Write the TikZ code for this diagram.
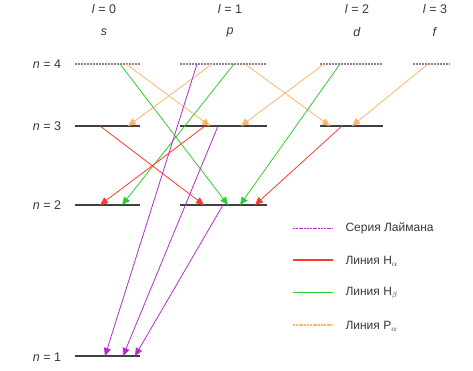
\documentclass[tikz,border=0pt]{standalone}
\usepackage{fontspec}
\setmainfont{Liberation Sans}
\usetikzlibrary{positioning, arrows.meta}

\definecolor{lyman}{RGB}{180,45,200}
\definecolor{halpha}{RGB}{250,60,40}
\definecolor{hbeta}{RGB}{50,205,50}
\definecolor{palpha}{RGB}{255,180,110}
\definecolor{txt}{RGB}{55,55,55}

\begin{document}
\begin{tikzpicture}[x=1pt, y=-1pt,
    lvl/.style={line width=1.1pt, black!75},
    lvltop/.style={line width=1.3pt, color={rgb,255:red,150;green,125;blue,150}, dash pattern=on 2pt off 1pt},
    trans/.style={line width=0.8pt, -{Triangle[length=8pt, width=7pt]}},
    lab/.style={font=\fontsize{12.5}{14}\selectfont, text=txt},
    leg/.style={font=\fontsize{12}{14}\selectfont, text=txt, anchor=west}]
    \useasboundingbox (0,0) rectangle (473,371);

    % top labels
    \node[lab] (l0) at (104,9) {\textit{l} = 0};
    \node[lab] (l1) at (230,9) {\textit{l} = 1};
    \node[lab] (l2) at (357,9) {\textit{l} = 2};
    \node[lab] (l3) at (435,9) {\textit{l} = 3};
    \node[lab] (ts) at (104,32) {\textit{s}};
    \node[lab] (tp) at (230,32) {\textit{p}};
    \node[lab] (td) at (357,32) {\textit{d}};
    \node[lab] (tf) at (435,32) {\textit{f}};

    \node[lab] (n4) at (47,64) {\textit{n} = 4};
    \node[lab] (n3) at (47,126) {\textit{n} =  3};
    \node[lab] (n2) at (47,205) {\textit{n} = 2};
    \node[lab] (n1) at (47,357) {\textit{n} = 1};

    % levels
    \draw[lvltop] (75,64) -- (140,64);
    \draw[lvltop] (180,64) -- (267,64);
    \draw[lvltop] (320,64) -- (382,64);
    \draw[lvltop] (413,64) -- (450,64);
    \draw[lvl] (75,126) -- (140,126);
    \draw[lvl] (180,126) -- (267,126);
    \draw[lvl] (320,126) -- (383,126);
    \draw[lvl] (75,205) -- (140,205);
    \draw[lvl] (180,205) -- (267,205);
    \draw[lvl] (75,356) -- (140,356);

    % end points on the levels
    \coordinate (s4a) at (120,64);
    \coordinate (s4b) at (126,64);
    \coordinate (p4a) at (197,64);
    \coordinate (p4b) at (212,64);
    \coordinate (p4c) at (234,64);
    \coordinate (p4d) at (245,64);
    \coordinate (d4a) at (324,64);
    \coordinate (d4b) at (340,64);
    \coordinate (f4a) at (428,64);
    \coordinate (s3a) at (100,126);
    \coordinate (s3b) at (128,126);
    \coordinate (p3a) at (205,126);
    \coordinate (p3b) at (210,126);
    \coordinate (p3c) at (218,126);
    \coordinate (p3d) at (241,126);
    \coordinate (d3a) at (330,126);
    \coordinate (d3b) at (342,126);
    \coordinate (d3c) at (352,126);
    \coordinate (s2a) at (100,205);
    \coordinate (s2b) at (122,205);
    \coordinate (p2a) at (204,205);
    \coordinate (p2b) at (223,205);
    \coordinate (p2c) at (228,205);
    \coordinate (p2d) at (240,205);
    \coordinate (p2e) at (255,205);
    \coordinate (s1a) at (105,356);
    \coordinate (s1b) at (123,356);
    \coordinate (s1c) at (135,356);

    % P alpha
    \draw[trans, palpha] (s4b) -- (p3b);
    \draw[trans, palpha] (p4b) -- (s3b);
    \draw[trans, palpha] (p4d) -- (d3a);
    \draw[trans, palpha] (d4a) -- (p3d);
    \draw[trans, palpha] (f4a) -- (d3c);

    % H beta
    \draw[trans, hbeta] (s4a) -- (p2c);
    \draw[trans, hbeta] (p4c) -- (s2b);
    \draw[trans, hbeta] (d4b) -- (p2d);

    % H alpha
    \draw[trans, halpha] (s3a) -- (p2a);
    \draw[trans, halpha] (p3a) -- (s2a);
    \draw[trans, halpha] (d3b) -- (p2e);

    % Lyman
    \draw[trans, lyman] (p4a) -- (s1a);
    \draw[trans, lyman] (p3c) -- (s1b);
    \draw[trans, lyman] (p2b) -- (s1c);

    % legend
    \coordinate (ly0) at (293,228);
    \coordinate (ly1) at (333,228);
    \coordinate (ha0) at (293,260);
    \coordinate (ha1) at (333,260);
    \coordinate (hb0) at (293,292);
    \coordinate (hb1) at (333,292);
    \coordinate (pa0) at (293,325);
    \coordinate (pa1) at (333,325);
    \draw[lyman, line width=0.9pt, dash pattern=on 2pt off 0.8pt] (ly0) -- (ly1);
    \draw[halpha, line width=1.5pt] (ha0) -- (ha1);
    \draw[hbeta, line width=1pt] (hb0) -- (hb1);
    \draw[palpha, line width=1.1pt, dash pattern=on 2pt off 0.8pt] (pa0) -- (pa1);
    \node[leg] (legly) at (342,228) {Серия Лаймана};
    \node[leg] (legha) at (342,261) {Линия H$_\alpha$};
    \node[leg] (leghb) at (342,293) {Линия H$_\beta$};
    \node[leg] (legpa) at (342,326) {Линия P$_\alpha$};
\end{tikzpicture}
\end{document}
